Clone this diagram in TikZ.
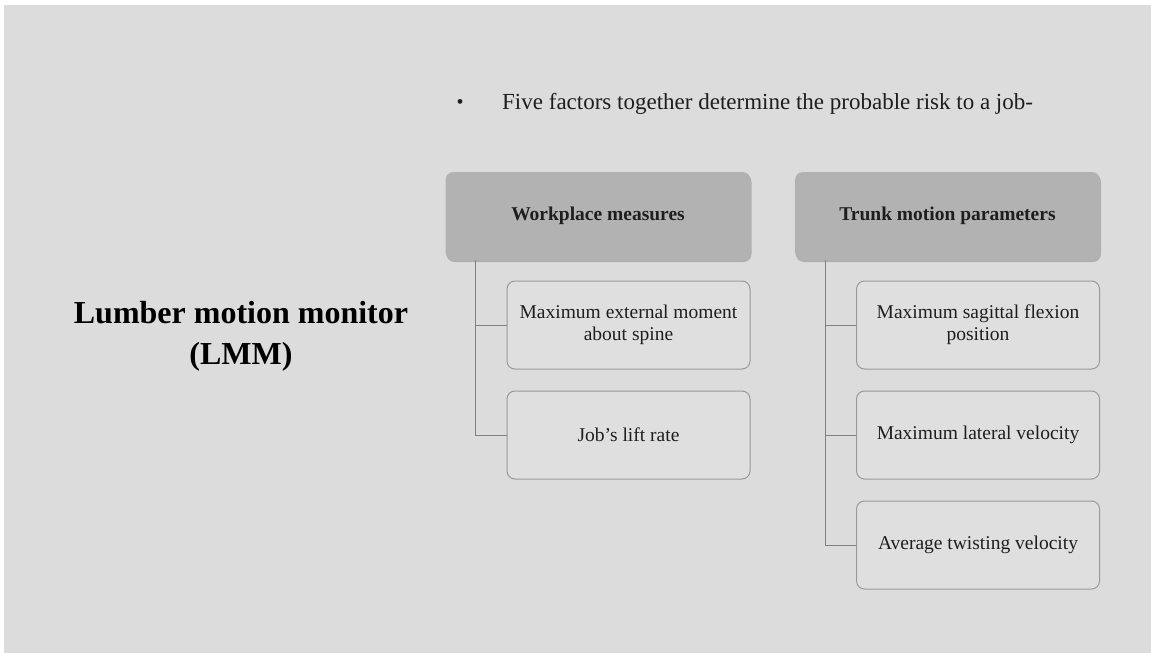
\documentclass[tikz,border=0pt]{standalone}
\usepackage{fontspec}
\setmainfont{Liberation Serif}
\usepackage{xcolor}
\usetikzlibrary{positioning,shadows}
\definecolor{slide}{HTML}{DCDCDC}
\definecolor{headfill}{HTML}{B2B2B2}
\definecolor{itemfill}{HTML}{DFDFDF}
\definecolor{edgec}{HTML}{9A9A9A}
\definecolor{linec}{HTML}{808080}
\definecolor{ink}{HTML}{1E1E1E}
\tikzset{
  box/.style={rectangle, rounded corners=8pt, align=center, inner sep=4pt,
              minimum height=88pt, text=ink},
  boxhead/.style={box, fill=headfill, draw=none, minimum width=305pt,
              font=\fontsize{19.5}{22}\selectfont\bfseries,
              drop shadow={shadow xshift=1pt, shadow yshift=-2pt, opacity=0.2, fill=black}},
  boxitem/.style={box, fill=itemfill, draw=edgec, line width=1pt, minimum width=243pt,
              font=\fontsize{19.5}{22}\selectfont},
  fl/.style={draw=linec, line width=0.9pt},
}
\begin{document}
\begin{tikzpicture}[x=1pt,y=-1pt]
  \useasboundingbox (0,0) rectangle (1151,653);
  \fill[white] (0,0) rectangle (1151,653);
  \fill[slide] (4,5) rectangle (1151,653);
  % title and intro line
  \node[font=\fontsize{32}{41}\selectfont\bfseries, align=center, text=black] (title) at (241,336)
    {Lumber motion monitor\\(LMM)};
  \node[font=\fontsize{20}{22}\selectfont, text=ink] (dot) at (460,104) {•};
  \node[font=\fontsize{23}{26}\selectfont, text=ink, anchor=west, inner sep=0pt] (intro) at (502,104)
    {Five factors together determine the probable risk to a job-};
  % headers
  \node[boxhead] (wm) at (598,216) {Workplace measures};
  \node[boxhead] (tm) at (947.5,216) {Trunk motion parameters};
  % factors
  \node[boxitem] (w1) at (628.5,325) {Maximum external moment\\about spine};
  \node[boxitem] (w2) at (628.5,435) {Job’s lift rate};
  \node[boxitem] (t1) at (978,325) {Maximum sagittal flexion\\position};
  \node[boxitem] (t2) at (978,435) {Maximum lateral velocity};
  \node[boxitem] (t3) at (978,545) {Average twisting velocity};
  % tree lines
  \draw[fl] ([xshift=30pt]wm.south west) |- (w1.west);
  \draw[fl] ([xshift=30pt]wm.south west) |- (w2.west);
  \draw[fl] ([xshift=31pt]tm.south west) |- (t1.west);
  \draw[fl] ([xshift=31pt]tm.south west) |- (t2.west);
  \draw[fl] ([xshift=31pt]tm.south west) |- (t3.west);
\end{tikzpicture}
\end{document}
